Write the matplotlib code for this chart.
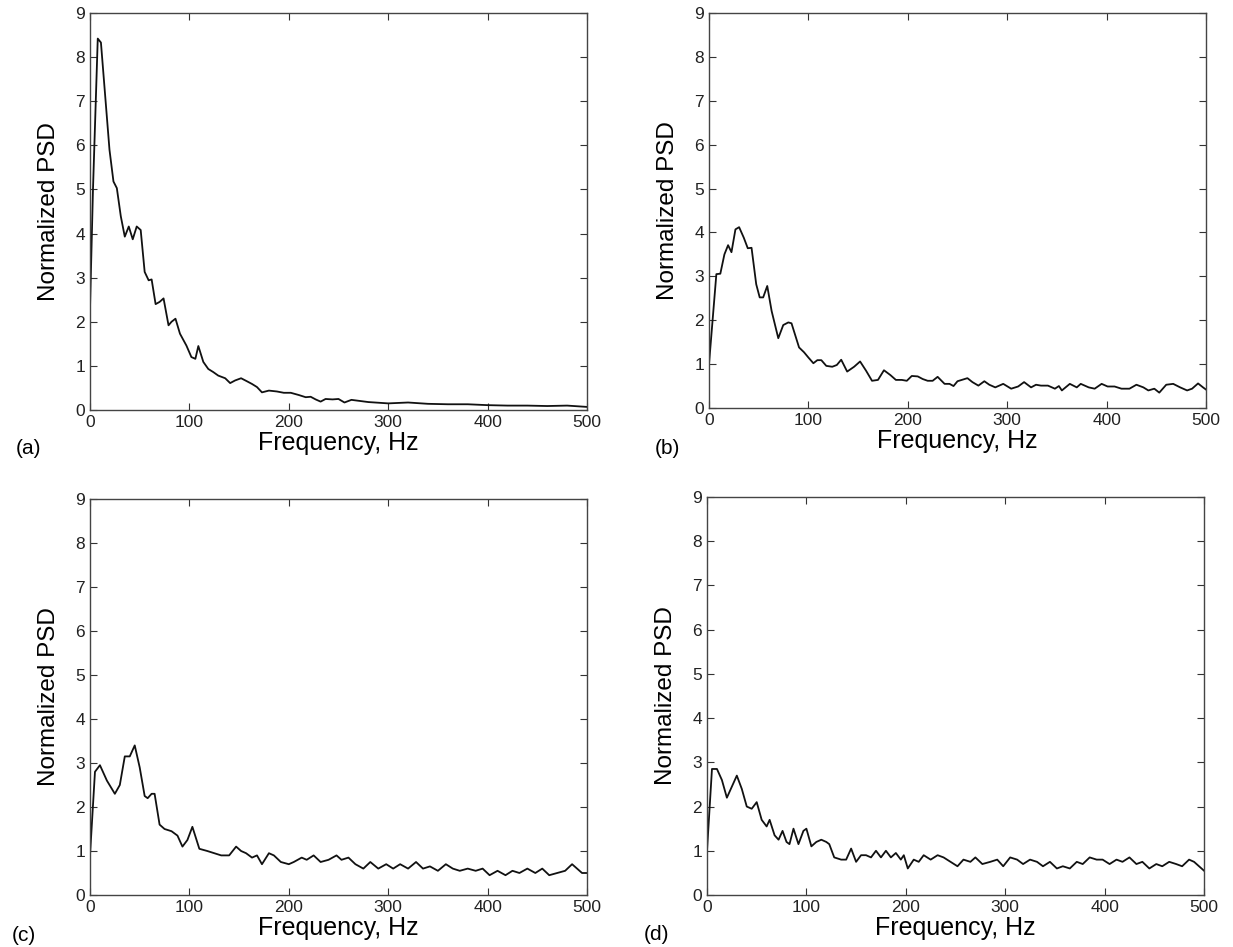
import numpy as np
import matplotlib
matplotlib.use("Agg")
import matplotlib.pyplot as plt

matplotlib.rc('font', family=['Liberation Sans', 'DejaVu Sans'], size=12)

# Panel (a)
freq_a = [0, 3, 7.8, 11, 19.6, 23.6, 27, 31, 35, 39, 43, 47, 51, 55, 59, 62, 66, 70, 74, 79, 82, 86,
          90.5, 97, 102, 106, 109, 114, 119, 124, 129, 136, 141, 146, 152, 158, 163, 168, 173, 180,
          188, 195, 202, 210, 217, 222, 227, 232, 237, 244, 250, 256, 263, 280, 300, 320, 340, 360,
          380, 400, 420, 440, 460, 480, 500]
psd_a = [2.3, 5.0, 8.42, 8.33, 5.9, 5.18, 5.03, 4.39, 3.93, 4.16, 3.87, 4.16, 4.08, 3.13, 2.94, 2.96,
         2.4, 2.45, 2.53, 1.92, 2.0, 2.07, 1.73, 1.46, 1.2, 1.16, 1.45, 1.09, 0.93, 0.86, 0.78, 0.72,
         0.61, 0.67, 0.72, 0.65, 0.59, 0.52, 0.40, 0.44, 0.42, 0.39, 0.39, 0.34, 0.29, 0.30, 0.24,
         0.19, 0.25, 0.24, 0.25, 0.17, 0.23, 0.18, 0.15, 0.17, 0.14, 0.13, 0.13, 0.11, 0.10, 0.10,
         0.09, 0.10, 0.07]

# Panel (b)
freq_b = [0, 7.4, 11.4, 15.5, 19.2, 22.6, 26.6, 30.3, 35, 39, 42.8, 47.5, 51, 54.5, 58.6, 63, 69.7,
          74.7, 79.8, 83, 90.6, 95.6, 100, 105, 109, 113, 118, 124, 128.6, 133, 139, 146, 152, 158,
          164, 170, 176, 182.5, 188, 194, 199, 204, 210, 215, 220, 225, 230, 237, 242, 246, 250,
          260, 265, 271, 277, 282, 288, 296, 304, 311, 317, 324, 329, 334, 341, 348, 352, 355, 363,
          370, 374, 382, 388, 395, 401, 408, 415, 423, 430, 437, 442, 448, 453, 460, 467, 474, 481,
          486, 492, 497, 500]
psd_b = [1.0, 3.05, 3.06, 3.5, 3.71, 3.55, 4.07, 4.12, 3.88, 3.64, 3.65, 2.82, 2.52, 2.52, 2.78,
         2.21, 1.59, 1.89, 1.95, 1.93, 1.38, 1.27, 1.15, 1.02, 1.09, 1.09, 0.96, 0.94, 0.98, 1.1,
         0.83, 0.94, 1.06, 0.85, 0.62, 0.64, 0.86, 0.75, 0.64, 0.64, 0.62, 0.73, 0.72, 0.66, 0.62,
         0.62, 0.71, 0.55, 0.55, 0.50, 0.61, 0.68, 0.59, 0.51, 0.61, 0.53, 0.47, 0.55, 0.44, 0.49,
         0.59, 0.47, 0.53, 0.51, 0.51, 0.44, 0.50, 0.40, 0.55, 0.47, 0.55, 0.47, 0.44, 0.55, 0.49,
         0.49, 0.44, 0.44, 0.53, 0.47, 0.40, 0.44, 0.35, 0.53, 0.55, 0.47, 0.40, 0.44, 0.56, 0.47,
         0.42]

# Panel (c)
freq_c = [0, 5, 10, 17, 25, 30, 35, 40, 45, 50, 55, 58, 62, 65, 70, 75, 82, 88, 93, 98, 103, 110,
          118, 125, 132, 140, 147, 152, 157, 163, 168, 173, 180, 185, 192, 200, 205, 213, 218, 225,
          232, 240, 248, 253, 260, 267, 275, 282, 290, 298, 305, 312, 320, 328, 335, 342, 350, 358,
          365, 372, 380, 388, 395, 402, 410, 418, 425, 432, 440, 448, 455, 462, 470, 478, 485, 490,
          495, 500]
psd_c = [0.9, 2.8, 2.95, 2.6, 2.3, 2.5, 3.15, 3.15, 3.4, 2.9, 2.25, 2.2, 2.3, 2.3, 1.6, 1.5, 1.45,
         1.35, 1.1, 1.25, 1.55, 1.05, 1.0, 0.95, 0.9, 0.9, 1.1, 1.0, 0.95, 0.85, 0.9, 0.7, 0.95, 0.9,
         0.75, 0.7, 0.75, 0.85, 0.8, 0.9, 0.75, 0.8, 0.9, 0.8, 0.85, 0.7, 0.6, 0.75, 0.6, 0.7, 0.6,
         0.7, 0.6, 0.75, 0.6, 0.65, 0.55, 0.7, 0.6, 0.55, 0.6, 0.55, 0.6, 0.45, 0.55, 0.45, 0.55,
         0.5, 0.6, 0.5, 0.6, 0.45, 0.5, 0.55, 0.7, 0.6, 0.5, 0.5]

# Panel (d)
freq_d = [0, 5, 10, 15, 20, 25, 30, 35, 40, 45, 50, 55, 60, 63, 68, 72, 76, 80, 83, 87, 92, 97, 100,
          105, 110, 115, 120, 123, 128, 135, 140, 145, 150, 155, 160, 165, 170, 175, 180, 185, 190,
          195, 198, 202, 208, 213, 218, 225, 232, 238, 245, 252, 258, 265, 270, 277, 285, 292, 298,
          305, 312, 318, 325, 332, 338, 345, 352, 358, 365, 372, 378, 385, 392, 398, 405, 412, 418,
          425, 432, 438, 445, 452, 458, 465, 472, 478, 485, 490, 495, 500]
psd_d = [1.0, 2.85, 2.85, 2.6, 2.2, 2.45, 2.7, 2.4, 2.0, 1.95, 2.1, 1.7, 1.55, 1.7, 1.35, 1.25, 1.45,
         1.2, 1.15, 1.5, 1.15, 1.45, 1.5, 1.1, 1.2, 1.25, 1.2, 1.15, 0.85, 0.8, 0.8, 1.05, 0.75, 0.9,
         0.9, 0.85, 1.0, 0.85, 1.0, 0.85, 0.95, 0.8, 0.9, 0.6, 0.8, 0.75, 0.9, 0.8, 0.9, 0.85, 0.75,
         0.65, 0.8, 0.75, 0.85, 0.7, 0.75, 0.8, 0.65, 0.85, 0.8, 0.7, 0.8, 0.75, 0.65, 0.75, 0.6,
         0.65, 0.6, 0.75, 0.7, 0.85, 0.8, 0.8, 0.7, 0.8, 0.75, 0.85, 0.7, 0.75, 0.6, 0.7, 0.65, 0.75,
         0.7, 0.65, 0.8, 0.75, 0.65, 0.55]

# label, data, axes box in pixels (left, top, right, bottom), panel letter position
panels = [
    ('(a)', freq_a, psd_a, [90, 13, 587, 410], (16, 448)),
    ('(b)', freq_b, psd_b, [709, 13, 1206, 408], (655, 448)),
    ('(c)', freq_c, psd_c, [90, 499, 587, 895], (12, 935)),
    ('(d)', freq_d, psd_d, [707, 497, 1204, 895], (644, 934)),
]

W, H = 1233, 947
fig = plt.figure(figsize=(W / 100, H / 100), dpi=100)

for label, f, p, (x0, y0, x1, y1), (lx, ly) in panels:
    ax = fig.add_axes([x0 / W, 1 - y1 / H, (x1 - x0) / W, (y1 - y0) / H])
    ax.plot(f, p, color='#111111', lw=1.3)
    ax.set_xlim(0, 500)
    ax.set_ylim(0, 9)
    ax.set_xticks([0, 100, 200, 300, 400, 500])
    ax.set_yticks(range(10))
    ax.tick_params(direction='in', top=True, right=True, length=5, labelsize=12.5,
                   colors='#333333', labelcolor='#222222')
    for s in ax.spines.values():
        s.set_color('#444444')
        s.set_linewidth(1.0)
    ax.set_xlabel('Frequency, Hz', fontsize=18, labelpad=1)
    ax.set_ylabel('Normalized PSD', fontsize=17.5, labelpad=11)
    fig.text(lx / W, 1 - ly / H, label, fontsize=15, ha='left', va='center')

fig.savefig('out.png', dpi=100)
